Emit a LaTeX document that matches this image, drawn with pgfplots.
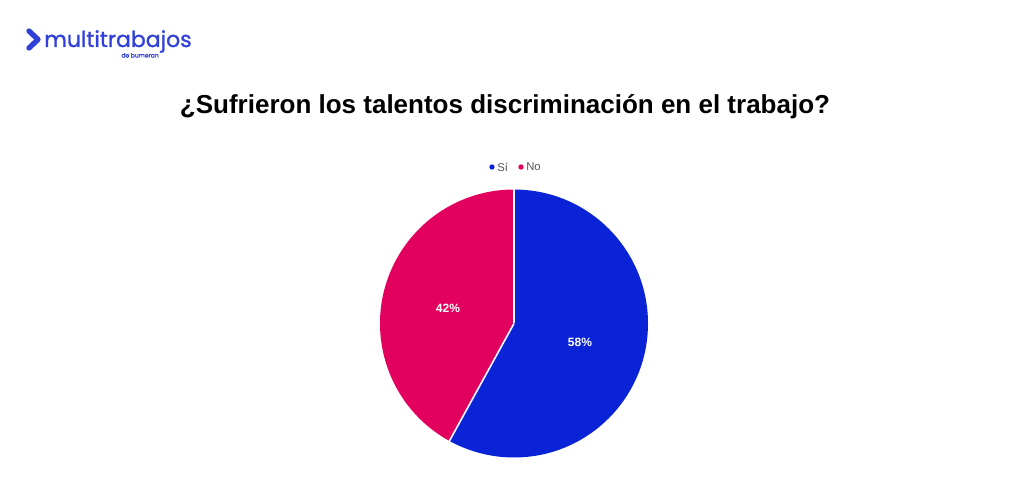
\documentclass[border=0pt]{standalone}
\usepackage{pgfplots}
\pgfplotsset{compat=1.18}
\usepackage{pgfplotstable}
\usepackage{fontspec}
\setmainfont{Liberation Sans}
\newfontfamily\logofont[FakeBold=1.2]{Poppins}
\definecolor{siblue}{HTML}{0A23D6}
\definecolor{nomag}{HTML}{E2015F}
\definecolor{logoblue}{HTML}{3040D8}
\definecolor{legendgray}{HTML}{555555}

% share of answers, in percent
\pgfplotstableread{
answer share
si 58
no 42
}\piedata

\begin{document}%
\pgfplotstablegetelem{0}{share}\of\piedata%
\let\shareSi\pgfplotsretval%
\pgfplotstablegetelem{1}{share}\of\piedata%
\let\shareNo\pgfplotsretval%
\pgfmathsetmacro\angEnd{90-3.6*\shareSi}%
\def\R{100.5pt}%
\begin{tikzpicture}
\begin{axis}[
    hide axis,
    scale only axis,
    width=768pt, height=369.75pt,
    xmin=0, xmax=1024,
    ymin=0, ymax=493,
    y dir=reverse,
    clip=false,
]
\coordinate (tl) at (axis cs:0,0);
\coordinate (br) at (axis cs:1024,493);
\coordinate (c) at (axis cs:514,323.5);
\coordinate (lsi) at (axis cs:580,342);
\coordinate (lno) at (axis cs:448,308);
% logo
\draw[line width=4pt, line cap=round, line join=round, logoblue]
    (axis cs:29,31) -- (axis cs:38,39.5) -- (axis cs:29,48);
\node[anchor=base west, inner sep=0pt, text=logoblue,
      font=\logofont\fontsize{16.5}{17}\selectfont] at (axis cs:44,47) {multitrabajos};
\node[anchor=base east, inner sep=0pt, text=logoblue,
      font=\logofont\fontsize{4.5}{5}\selectfont] at (axis cs:159,57.5) {de bumeran};
% title
\node[font=\bfseries\fontsize{19.5}{21}\selectfont] at (axis cs:505,107)
    {¿Sufrieron los talentos discriminación en el trabajo?};
% legend
\fill[siblue] (axis cs:492,167) circle[radius=2pt];
\node[anchor=west, inner sep=0pt, text=legendgray, font=\fontsize{8.5}{9}\selectfont]
    at (axis cs:497,167) {Sí};
\fill[nomag] (axis cs:521,167) circle[radius=2pt];
\node[anchor=west, inner sep=0pt, text=legendgray, font=\fontsize{8.5}{9}\selectfont]
    at (axis cs:526,167) {No};
\end{axis}
\fill[siblue] (c) -- ++(90:\R) arc[start angle=90, end angle=\angEnd, radius=\R] -- cycle;
\fill[nomag] (c) -- ++(\angEnd:\R) arc[start angle=\angEnd, end angle=-270, radius=\R] -- cycle;
\draw[white, line width=1.2pt] (c) -- ++(90:\R);
\draw[white, line width=1.2pt] (c) -- ++(\angEnd:\R);
\node[text=white, font=\bfseries\fontsize{9}{10}\selectfont] at (lsi) {\shareSi\%};
\node[text=white, font=\bfseries\fontsize{9}{10}\selectfont] at (lno) {\shareNo\%};
\pgfresetboundingbox
\path (tl) rectangle (br);
\end{tikzpicture}%
\end{document}
